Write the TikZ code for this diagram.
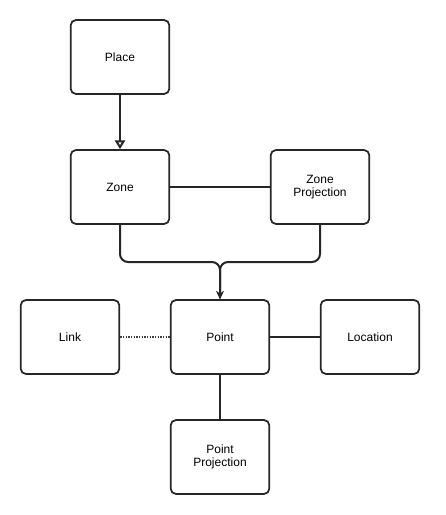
\documentclass[tikz,border=0pt]{standalone}
\usepackage{fontspec}
\setmainfont{Liberation Sans}
\usepackage{tikz}
\usetikzlibrary{arrows.meta,positioning}
\tikzset{
  entity/.style={rectangle, draw=black!85, line width=1.3pt, rounded corners=4pt,
    minimum width=74pt, minimum height=55.5pt, align=center,
    font=\fontsize{9}{10}\selectfont},
  link/.style={draw=black!85, line width=1.5pt},
  inherit/.style={link, -{Triangle[open,length=6.5pt,width=7.5pt]}},
  flow/.style={link, rounded corners=6pt, -{Stealth[length=6pt,width=5.5pt]}},
  weak/.style={draw=black!75, line width=1.5pt, dash pattern=on 1.2pt off 0.8pt},
}
\begin{document}
\begin{tikzpicture}[x=0.75pt, y=-0.75pt]
  \useasboundingbox (0,0) rectangle (446,515);
  \node[entity] (Place) at (120,57) {Place};
  \node[entity] (Zone) at (120,187) {Zone};
  \node[entity] (ZoneProj) at (320,187) {Zone\\Projection};
  \node[entity] (Link) at (70,337) {Link};
  \node[entity] (Point) at (220,337) {Point};
  \node[entity] (Location) at (370,337) {Location};
  \node[entity] (PointProj) at (220,457) {Point\\Projection};
  \coordinate (merge) at (220,262);

  \path
    (Place) edge [inherit] (Zone)
    (Zone) edge [link] (ZoneProj)
    (Link) edge [weak] (Point)
    (Point) edge [link] (Location)
            edge [link] (PointProj);
  \draw[flow] (Zone.south) |- (merge) -- (Point.north);
  \draw[flow] (ZoneProj.south) |- (merge) -- (Point.north);
\end{tikzpicture}
\end{document}
